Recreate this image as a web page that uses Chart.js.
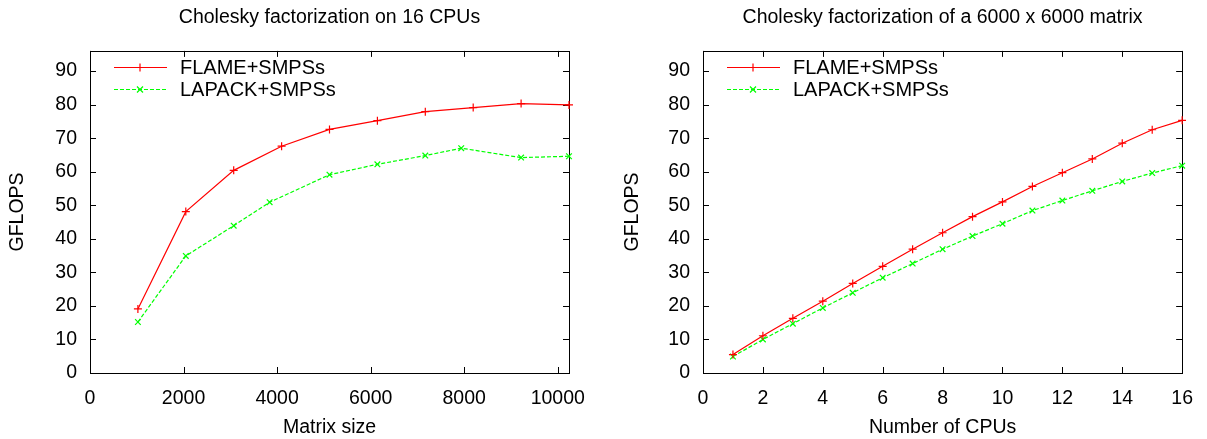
<!DOCTYPE html>
<html><head><meta charset="utf-8">
<script src="https://cdn.jsdelivr.net/npm/chart.js@4/dist/chart.umd.min.js"></script>
<style>
html,body{margin:0;padding:0;background:#fff;overflow:hidden;width:1207px;height:439px;}
#wrapL{position:absolute;left:0;top:0;width:603px;height:439px;}
#wrapR{position:absolute;left:603px;top:0;width:604px;height:439px;}
</style></head><body>
<div id="wrapL"><canvas id="left"></canvas></div>
<div id="wrapR"><canvas id="right"></canvas></div>
<script>
// ---- data ----
const seriesNames = ['FLAME+SMPSs', 'LAPACK+SMPSs'];
const chartTitles = ['Cholesky factorization on 16 CPUs', 'Cholesky factorization of a 6000 x 6000 matrix'];
const xAxisTitles = ['Matrix size', 'Number of CPUs'];
const yAxisTitle = 'GFLOPS';

const matrixSizesFlame = [1024, 2048, 3072, 4096, 5120, 6144, 7168, 8192, 9216, 10240];
const flameBySize = [19.1, 48.1, 60.4, 67.6, 72.6, 75.2, 77.9, 79.1, 80.3, 79.9];
const matrixSizesLapack = [1024, 2048, 3072, 3840, 5120, 6144, 7168, 7936, 9216, 10240];
const lapackBySize = [15.2, 34.9, 43.9, 50.9, 59.1, 62.2, 64.8, 67.0, 64.2, 64.6];

const cpuCounts = [1, 2, 3, 4, 5, 6, 7, 8, 9, 10, 11, 12, 13, 14, 15, 16];
const flameByCpus = [5.5, 11.1, 16.3, 21.4, 26.7, 31.8, 36.9, 41.8, 46.6, 51.0, 55.6, 59.7, 63.8, 68.5, 72.5, 75.3];
const lapackByCpus = [4.9, 10.0, 14.7, 19.4, 23.9, 28.4, 32.6, 36.9, 40.8, 44.5, 48.4, 51.4, 54.3, 57.1, 59.6, 61.8];

const xTickValuesLeft = [0, 2000, 4000, 6000, 8000, 10000];
const xTickValuesRight = [0, 2, 4, 6, 8, 10, 12, 14, 16];
const yTickValues = [0, 10, 20, 30, 40, 50, 60, 70, 80, 90];
const xRangeLeft = [0, 10240];
const xRangeRight = [0, 16];
const yRange = [0, 96];

// ---- styling ----
const FONT = 'Liberation Sans, Arial, Helvetica, sans-serif';
const RED = '#ff0000', GREEN = '#00ff00';
const FS = 19.5;

function pts(xs, ys) { return xs.map((x, i) => ({x: x, y: ys[i]})); }

function drawMarker(ctx, style, x, y, r) {
  ctx.beginPath();
  if (style === 'cross') {
    ctx.moveTo(x - r, y); ctx.lineTo(x + r, y);
    ctx.moveTo(x, y - r); ctx.lineTo(x, y + r);
  } else {
    const d = r * 0.75;
    ctx.moveTo(x - d, y - d); ctx.lineTo(x + d, y + d);
    ctx.moveTo(x - d, y + d); ctx.lineTo(x + d, y - d);
  }
  ctx.stroke();
}

const framePlugin = {
  id: 'frame',
  beforeDatasetsDraw(chart) {
    const {ctx, chartArea: a, scales: {x, y}} = chart;
    const L = 6;
    ctx.save();
    ctx.strokeStyle = '#000';
    ctx.lineWidth = 1;
    ctx.beginPath();
    x.ticks.forEach(t => {
      const px = Math.round(x.getPixelForValue(t.value)) + 0.5;
      ctx.moveTo(px, a.bottom); ctx.lineTo(px, a.bottom - L);
      ctx.moveTo(px, a.top); ctx.lineTo(px, a.top + L);
    });
    y.ticks.forEach(t => {
      const py = Math.round(y.getPixelForValue(t.value)) + 0.5;
      ctx.moveTo(a.left, py); ctx.lineTo(a.left + L, py);
      ctx.moveTo(a.right, py); ctx.lineTo(a.right - L, py);
    });
    ctx.stroke();
    ctx.strokeRect(Math.round(a.left) + 0.5, Math.round(a.top) + 0.5,
                   Math.round(a.right - a.left), Math.round(a.bottom - a.top));
    ctx.restore();
  }
};

const legendPlugin = {
  id: 'innerLegend',
  afterDatasetsDraw(chart) {
    const {ctx, chartArea: a} = chart;
    ctx.save();
    ctx.font = '20px ' + FONT;
    ctx.textBaseline = 'middle';
    ctx.fillStyle = '#000';
    chart.data.datasets.forEach((ds, i) => {
      const yy = Math.round(a.top + 16 + i * 22.5) + 0.5;
      const x0 = a.left + 24, x1 = a.left + 77, xm = a.left + 50;
      ctx.strokeStyle = ds.borderColor;
      ctx.lineWidth = 1.2;
      ctx.setLineDash(ds.borderDash || []);
      ctx.beginPath(); ctx.moveTo(x0, yy); ctx.lineTo(x1, yy); ctx.stroke();
      ctx.setLineDash([]);
      drawMarker(ctx, ds.pointStyle, xm, yy, 4);
      ctx.fillText(ds.label, a.left + 90, yy + 1);
    });
    ctx.restore();
  }
};

function setTicks(values) {
  return s => { s.ticks = values.map(v => ({value: v})); };
}

function makeChart(canvasId, title, xTitle, xRange, xTickValues, datasets, yAxisWidth, yTitlePad, rightPad) {
  return new Chart(document.getElementById(canvasId), {
    type: 'line',
    data: {datasets: datasets},
    plugins: [framePlugin, legendPlugin],
    options: {
      responsive: true,
      maintainAspectRatio: false,
      animation: false,
      devicePixelRatio: 1,
      layout: {padding: {left: 0, right: rightPad, top: 0, bottom: 0}},
      plugins: {
        legend: {display: false},
        tooltip: {enabled: false},
        title: {
          display: true, text: title, fullSize: false, color: '#000',
          font: {family: FONT, size: FS, weight: 'normal', lineHeight: 1.2},
          padding: {top: 5.5, bottom: 22}
        }
      },
      scales: {
        x: {
          type: 'linear', min: xRange[0], max: xRange[1],
          border: {display: false},
          grid: {display: false, drawTicks: false, tickLength: 0},
          afterBuildTicks: setTicks(xTickValues),
          ticks: {autoSkip: false, maxRotation: 0,
                  color: '#000', padding: 14, font: {family: FONT, size: FS},
                  callback: v => String(v)},
          title: {display: true, text: xTitle, color: '#000',
                  font: {family: FONT, size: FS, lineHeight: 1.2}, padding: {top: 0, bottom: 0}},
          afterFit: s => { s.height = 66; }
        },
        y: {
          type: 'linear', min: yRange[0], max: yRange[1],
          border: {display: false},
          grid: {display: false, drawTicks: false, tickLength: 0},
          afterBuildTicks: setTicks(yTickValues),
          ticks: {autoSkip: false, color: '#000', padding: 13,
                  font: {family: FONT, size: FS}, callback: v => String(v)},
          title: {display: true, text: yAxisTitle, color: '#000',
                  font: {family: FONT, size: FS, lineHeight: 1.2}, padding: {top: yTitlePad, bottom: 0}},
          afterFit: s => { s.width = yAxisWidth; }
        }
      }
    }
  });
}

function seriesDatasets(xs1, ys1, xs2, ys2) {
  return [
    {label: seriesNames[0], data: pts(xs1, ys1), borderColor: RED, backgroundColor: RED,
     borderWidth: 1.2, pointStyle: 'cross', pointRadius: 4, pointBorderWidth: 1.2,
     pointBorderColor: RED, tension: 0, clip: 4},
    {label: seriesNames[1], data: pts(xs2, ys2), borderColor: GREEN, backgroundColor: GREEN,
     borderWidth: 1.2, borderDash: [4, 2], pointStyle: 'crossRot', pointRadius: 4, pointBorderWidth: 1.2,
     pointBorderColor: GREEN, tension: 0, clip: 4}
  ];
}

makeChart('left', chartTitles[0], xAxisTitles[0], xRangeLeft, xTickValuesLeft,
  seriesDatasets(matrixSizesFlame, flameBySize, matrixSizesLapack, lapackBySize), 90, 5.8, 34);
makeChart('right', chartTitles[1], xAxisTitles[1], xRangeRight, xTickValuesRight,
  seriesDatasets(cpuCounts, flameByCpus, cpuCounts, lapackByCpus), 100, 18.3, 24);
</script>
</body></html>
